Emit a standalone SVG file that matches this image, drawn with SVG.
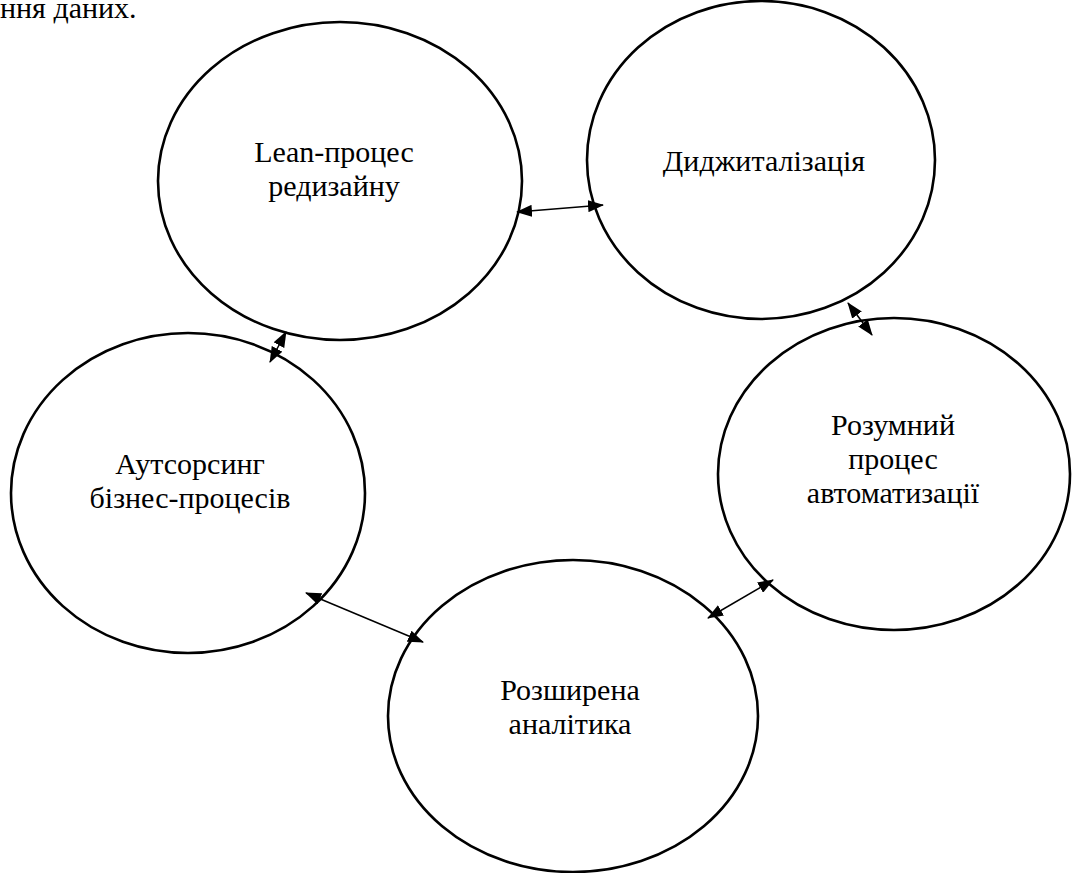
<svg xmlns="http://www.w3.org/2000/svg" width="1072" height="873" viewBox="0 0 1072 873">
<style>
.node ellipse{fill:none;stroke:#000;stroke-width:2.6}
text{font-family:"Liberation Serif","Times New Roman",serif;font-size:30px;fill:#000}
.c{text-anchor:middle}
.conn line{stroke:#000;stroke-width:1.5;marker-start:url(#ah);marker-end:url(#ah)}
</style>
<defs>
<marker id="ah" viewBox="0 0 16 12" refX="15" refY="6" markerWidth="16" markerHeight="12" markerUnits="userSpaceOnUse" orient="auto-start-reverse">
<path d="M0,0 L16,6 L0,12 Z" fill="#000"/>
</marker>
</defs>
<rect width="1072" height="873" fill="#fff"/>
<text x="0" y="18">ння даних.</text>
<g id="lean" class="node">
<ellipse cx="340" cy="181" rx="182" ry="159"/>
<text class="c" x="334" y="162">Lean-процес</text>
<text class="c" x="334" y="196">редизайну</text>
</g>
<g id="digital" class="node">
<ellipse cx="761" cy="160" rx="174" ry="159"/>
<text class="c" x="764" y="171">Диджиталізація</text>
</g>
<g id="automation" class="node">
<ellipse cx="894" cy="474" rx="176" ry="156"/>
<text class="c" x="893" y="435">Розумний</text>
<text class="c" x="893" y="469">процес</text>
<text class="c" x="893" y="503">автоматизації</text>
</g>
<g id="outsourcing" class="node">
<ellipse cx="188" cy="493" rx="177" ry="160"/>
<text class="c" x="190" y="474">Аутсорсинг</text>
<text class="c" x="190" y="508">бізнес-процесів</text>
</g>
<g id="analytics" class="node">
<ellipse cx="573" cy="716" rx="185" ry="156"/>
<text class="c" x="570" y="700">Розширена</text>
<text class="c" x="570" y="734">аналітика</text>
</g>
<g id="connectors" class="conn">
<line x1="517" y1="212" x2="603" y2="205"/>
<line x1="286" y1="332" x2="270" y2="362"/>
<line x1="848" y1="303" x2="872" y2="335"/>
<line x1="306" y1="593" x2="423" y2="642"/>
<line x1="773" y1="580" x2="708" y2="618"/>
</g>
</svg>
